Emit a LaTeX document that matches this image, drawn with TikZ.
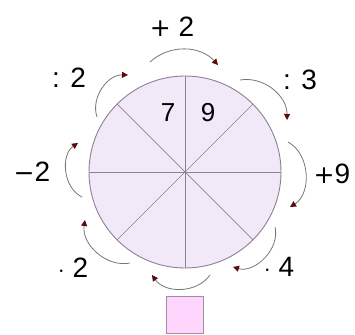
\documentclass[tikz,border=0pt]{standalone}
\usepackage{fontspec}
\setmainfont{Liberation Sans}
\newfontfamily\signfont{DejaVu Sans}
\usetikzlibrary{arrows.meta}
\definecolor{wheelfill}{HTML}{F1E8F8}
\definecolor{wheelline}{HTML}{8E7F95}
\definecolor{boxfill}{HTML}{FDD5FD}
\definecolor{boxline}{HTML}{A28CA4}
\definecolor{arcline}{HTML}{767676}
\definecolor{tipred}{HTML}{5C0B0B}
\newcommand{\opsign}[1]{{\signfont\fontsize{25}{30}\selectfont #1}}
\tikzset{
  wheel/.style={circle, draw=wheelline, fill=wheelfill, line width=0.9pt, minimum size=192pt, inner sep=0pt},
  spoke/.style={draw=wheelline, line width=0.7pt},
  num/.style={font=\fontsize{26}{28}\selectfont, inner sep=0pt},
  oplab/.style={font=\fontsize{28}{30}\selectfont, inner sep=0pt},
  answer/.style={draw=boxline, fill=boxfill, line width=0.9pt, minimum size=37pt, inner sep=0pt},
  turn/.style={draw=arcline, line width=0.8pt, -{Triangle[length=6pt, width=6pt, color=tipred]}},
}
\begin{document}
\begin{tikzpicture}[x=1pt, y=1pt]
  \useasboundingbox (0,0) rectangle (355,334);
  \node[wheel] (w) at (185,162) {};
  \foreach \a [evaluate=\a as \b using int(\a+180)] in {0,45,90,135}
    \draw[spoke] (w.\a) -- (w.\b);
  \node[num] (n7) at (168,221) {7};
  \node[num] (n9) at (208,221) {9};
  \node[answer] (box) at (184.5,19) {};
  % operation labels, clockwise from the top
  \node[oplab] (l1) at (172,307) {\opsign{+} 2};
  \node[oplab] (l2) at (300,254) {: 3};
  \node[oplab] (l3) at (332,160) {\opsign{+}9};
  \node[oplab] (l4) at (279,67) {\(\cdot\) 4};
  \node[oplab] (l6) at (73,66) {\(\cdot\) 2};
  \node[oplab] (l7) at (32,162) {\opsign{−}2};
  \node[oplab] (l8) at (69,256) {: 2};
  % arc ends
  \coordinate (a1) at (150,272); \coordinate (b1) at (218,269);
  \coordinate (a2) at (240,254); \coordinate (b2) at (287,214);
  \coordinate (a3) at (288,192); \coordinate (b3) at (290,127);
  \coordinate (a4) at (275,107); \coordinate (b4) at (233,67);
  \coordinate (a5) at (210,59);  \coordinate (b5) at (152,59);
  \coordinate (a6) at (130,71);  \coordinate (b6) at (85,114);
  \coordinate (a7) at (82,137);  \coordinate (b7) at (78,191);
  \coordinate (a8) at (97,217);  \coordinate (b8) at (128,259);
  \draw[turn] (a1) to[bend left=45] (b1);
  \draw[turn] (a2) to[bend left=50] (b2);
  \draw[turn] (a3) to[bend left=60] (b3);
  \draw[turn] (a4) to[bend left=60] (b4);
  \draw[turn] (a5) to[bend left=55] (b5);
  \draw[turn] (a6) to[bend left=55] (b6);
  \draw[turn] (a7) to[bend left=60] (b7);
  \draw[turn] (a8) to[bend left=55] (b8);
\end{tikzpicture}
\end{document}
